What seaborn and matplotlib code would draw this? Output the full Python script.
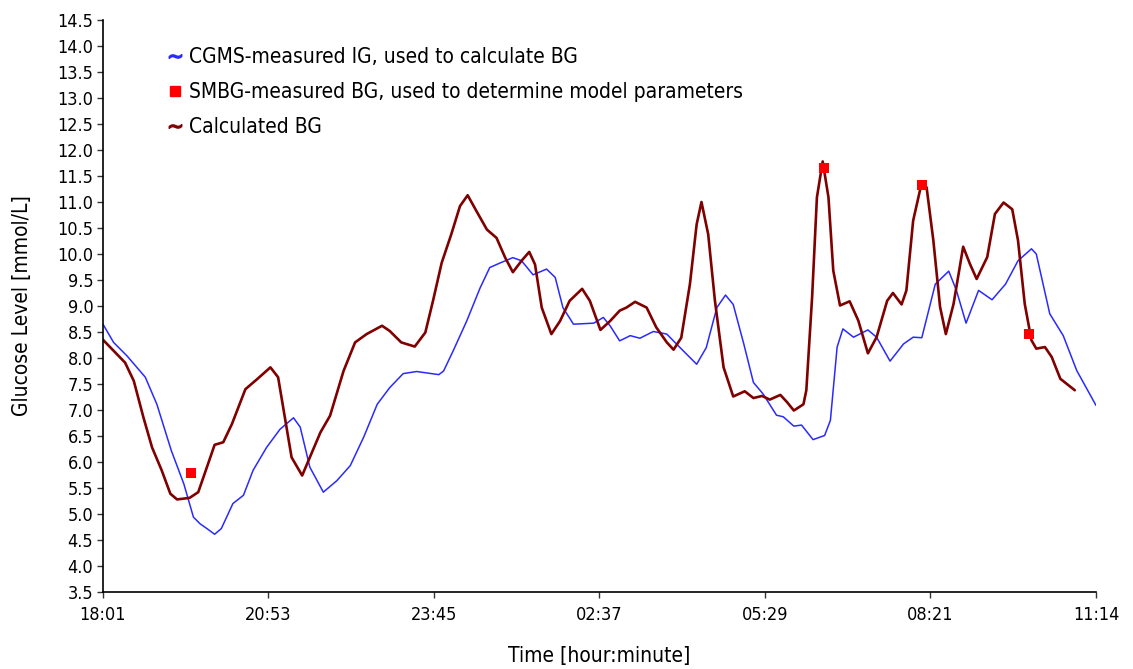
import seaborn as sns
import matplotlib.pyplot as plt
import pandas as pd
import numpy as np
from matplotlib.lines import Line2D

# minutes after 18:01, glucose in mmol/L
cgms_t = [0, 11, 25, 44, 56, 71, 84, 94, 101, 108, 116, 123, 135, 146, 156, 170, 184, 198,
          205, 215, 229, 243, 257, 271, 285, 298, 312, 326, 349, 354, 364, 378, 392, 402,
          413, 426, 435, 447, 461, 470, 478, 489, 510, 520, 527, 537, 548, 558, 572, 586,
          596, 617, 627, 638, 647, 655, 666, 676, 686, 700, 707, 718, 726, 738, 750, 756,
          763, 769, 780, 795, 804, 818, 832, 842, 851, 865, 879, 887, 897, 910, 924, 938,
          951, 965, 970, 984, 998, 1012, 1032]
cgms_v = [8.65, 8.30, 8.04, 7.63, 7.11, 6.22, 5.58, 4.94, 4.81, 4.72, 4.61, 4.72, 5.20, 5.36,
          5.84, 6.28, 6.63, 6.85, 6.67, 5.90, 5.42, 5.64, 5.93, 6.48, 7.11, 7.43, 7.70, 7.74,
          7.68, 7.75, 8.14, 8.71, 9.35, 9.74, 9.83, 9.93, 9.87, 9.60, 9.71, 9.55, 8.97, 8.65,
          8.67, 8.78, 8.62, 8.33, 8.43, 8.38, 8.51, 8.46, 8.27, 7.88, 8.20, 8.97, 9.21, 9.03,
          8.27, 7.53, 7.31, 6.90, 6.87, 6.69, 6.71, 6.43, 6.51, 6.80, 8.21, 8.56, 8.40, 8.54,
          8.40, 7.94, 8.27, 8.40, 8.39, 9.42, 9.67, 9.30, 8.67, 9.30, 9.12, 9.42, 9.87, 10.10,
          10.00, 8.85, 8.43, 7.76, 7.09]

calc_t = [0, 11, 23, 32, 42, 51, 61, 70, 77, 90, 99, 108, 116, 125, 134, 148, 160, 174, 182,
          189, 196, 207, 215, 226, 236, 250, 262, 274, 290, 298, 310, 324, 335, 343, 352, 362,
          371, 379, 388, 399, 409, 418, 426, 435, 443, 449, 456, 466, 475, 485, 498, 506, 517,
          527, 537, 544, 553, 565, 575, 586, 593, 601, 610, 617, 622, 629, 636, 645, 655, 667,
          676, 685, 693, 704, 711, 718, 728, 731, 737, 742, 748, 754, 759, 766, 776, 785, 795,
          804, 815, 821, 830, 835, 842, 851, 856, 863, 870, 876, 884, 894, 901, 908, 919, 927,
          936, 945, 951, 958, 965, 970, 979, 986, 995, 1010]
calc_v = [8.35, 8.14, 7.91, 7.56, 6.86, 6.28, 5.84, 5.39, 5.28, 5.31, 5.42, 5.90, 6.33, 6.38,
          6.73, 7.40, 7.59, 7.82, 7.63, 6.86, 6.09, 5.74, 6.09, 6.57, 6.89, 7.75, 8.30, 8.46,
          8.62, 8.52, 8.30, 8.22, 8.49, 9.10, 9.83, 10.38, 10.92, 11.13, 10.83, 10.47, 10.31,
          9.93, 9.65, 9.87, 10.04, 9.80, 8.97, 8.46, 8.71, 9.10, 9.33, 9.10, 8.54, 8.71, 8.91,
          8.97, 9.08, 8.97, 8.59, 8.30, 8.16, 8.39, 9.42, 10.57, 11.00, 10.38, 9.10, 7.82, 7.26,
          7.36, 7.23, 7.27, 7.20, 7.29, 7.15, 6.99, 7.11, 7.38, 9.17, 11.09, 11.78, 11.09, 9.68,
          9.01, 9.09, 8.72, 8.09, 8.40, 9.10, 9.25, 9.03, 9.30, 10.64, 11.38, 11.28, 10.26, 8.98,
          8.46, 9.04, 10.14, 9.81, 9.52, 9.94, 10.77, 10.99, 10.86, 10.26, 9.04, 8.34, 8.18,
          8.21, 8.02, 7.60, 7.38]

smbg_t = [91, 749, 851, 962]
smbg_v = [5.78, 11.66, 11.33, 8.46]

tick_pos = [0, 172, 344, 516, 688, 860, 1032]
tick_labels = ["18:01", "20:53", "23:45", "02:37", "05:29", "08:21", "11:14"]

cgms = pd.DataFrame({"t": cgms_t, "v": cgms_v})
calc = pd.DataFrame({"t": calc_t, "v": calc_v})
smbg = pd.DataFrame({"t": smbg_t, "v": smbg_v})

sns.set_style("ticks")
plt.rcParams["font.family"] = ["DejaVu Sans"]
plt.rcParams["font.stretch"] = "condensed"

fig = plt.figure(figsize=(11.33, 6.69), dpi=100)
ax = fig.add_axes([0.0909, 0.1151, 0.8764, 0.855])

sns.lineplot(data=cgms, x="t", y="v", color="#2a2aff", linewidth=1.1, ax=ax)
sns.lineplot(data=calc, x="t", y="v", color="#800000", linewidth=1.9, ax=ax)
sns.scatterplot(data=smbg, x="t", y="v", color="#ff0000", marker="s", s=55,
                linewidth=0, ax=ax, zorder=5)

ax.set_xlim(0, 1032)
ax.set_ylim(3.5, 14.5)
ax.set_xticks(tick_pos)
ax.set_xticklabels(tick_labels)
yt = np.arange(3.5, 14.51, 0.5)
ax.set_yticks(yt)
ax.set_yticklabels([f"{v:.1f}" for v in yt])
ax.tick_params(labelsize=13, length=4, width=1, color="#333333", pad=3, labelcolor="black")
ax.tick_params(axis="x", pad=6)
for s in ["top", "right"]:
    ax.spines[s].set_visible(False)
for s in ["left", "bottom"]:
    ax.spines[s].set_color("black")
    ax.spines[s].set_linewidth(1.2)

ax.set_xlabel("Time [hour:minute]", fontsize=15, labelpad=16, color="black")
ax.set_ylabel("Glucose Level [mmol/L]", fontsize=15, labelpad=18, color="black")

handles = [
    Line2D([], [], linestyle="none", marker="$\\sim$", color="#2a2aff", markersize=9),
    Line2D([], [], linestyle="none", marker="s", color="#ff0000", markersize=6.5),
    Line2D([], [], linestyle="none", marker="$\\sim$", color="#800000", markersize=9),
]
labels = ["CGMS-measured IG, used to calculate BG",
          "SMBG-measured BG, used to determine model parameters",
          "Calculated BG"]
leg = ax.legend(handles, labels, loc="upper left", bbox_to_anchor=(0.047, 0.985), frameon=False,
                fontsize=15, handlelength=0.6, handletextpad=0.4, labelspacing=0.72)
for txt in leg.get_texts():
    txt.set_color("black")

plt.savefig("out.png", dpi=100)
plt.close()
